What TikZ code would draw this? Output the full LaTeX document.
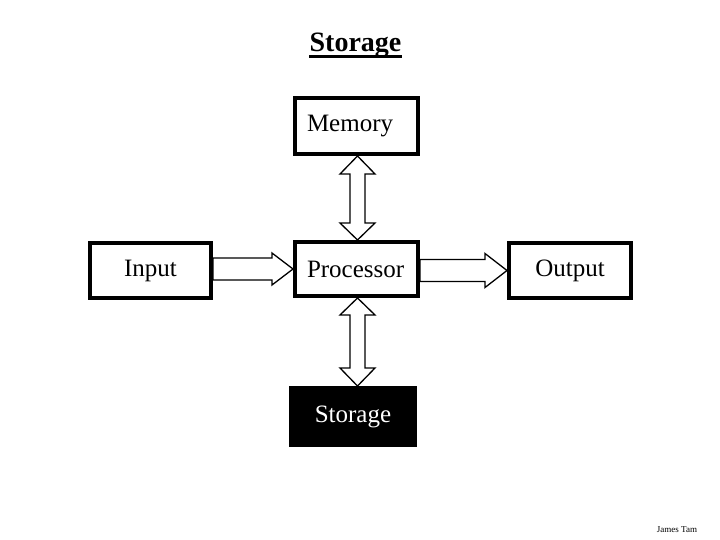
\documentclass[tikz,border=0pt]{standalone}
\usepackage{fontspec}
\setmainfont{Liberation Serif}
\usetikzlibrary{calc}
\tikzset{
  unitbox/.style={draw=black, line width=4pt, fill=white, minimum height=55pt, inner sep=0pt,
    font=\fontsize{25}{30}\selectfont},
  leftbox/.style={unitbox, text width=99pt, align=left, inner xsep=12pt},
  darkbox/.style={unitbox, fill=black, text=white},
  blockarrow/.style={draw=black, line width=1.3pt, fill=white, line join=miter},
}
\begin{document}
\begin{tikzpicture}[x=1pt,y=-1pt]
\useasboundingbox (0,0) rectangle (720,540);
\node[font=\fontsize{28}{32}\selectfont\bfseries, inner sep=0pt, anchor=base] (title) at (355.5,52) {Storage};
\draw[line width=2.5pt] ($(title.base west)+(0,4.5)$) -- ($(title.base east)+(0,4.5)$);
% boxes
\node[leftbox, minimum height=56pt] (mem) at (356.5,126) {Memory};
\node[leftbox, minimum height=54pt] (proc) at (356.5,269) {Processor};
\node[unitbox, minimum width=121pt] (in) at (150.5,270.5) {Input};
\node[unitbox, minimum width=122pt] (out) at (570,270.5) {Output};
\node[darkbox, minimum width=124pt, minimum height=57pt] (stor) at (353,416.5) {Storage};
% horizontal arrows
\draw[blockarrow] let \p1=(in.east), \p2=(proc.west) in
  (\x1,\y2+11pt) -- (\x2-21pt,\y2+11pt) -- (\x2-21pt,\y2+16pt) -- (\x2,\y2)
  -- (\x2-21pt,\y2-16pt) -- (\x2-21pt,\y2-11pt) -- (\x1,\y2-11pt) -- cycle;
\draw[blockarrow] let \p1=(proc.east), \p2=(out.west) in
  (\x1,\y2+11pt) -- (\x2-22pt,\y2+11pt) -- (\x2-22pt,\y2+17pt) -- (\x2,\y2)
  -- (\x2-22pt,\y2-17pt) -- (\x2-22pt,\y2-11pt) -- (\x1,\y2-11pt) -- cycle;
% vertical double arrows
\draw[blockarrow] let \p1=(mem.south), \p2=(proc.north) in
  (\x1+1pt,\y1) -- (\x1-16.5pt,\y1-18pt) -- (\x1-6.5pt,\y1-18pt) -- (\x1-6.5pt,\y2+17pt)
  -- (\x1-16.5pt,\y2+17pt) -- (\x1+1pt,\y2) -- (\x1+18.5pt,\y2+17pt) -- (\x1+8.5pt,\y2+17pt)
  -- (\x1+8.5pt,\y1-18pt) -- (\x1+18.5pt,\y1-18pt) -- cycle;
\draw[blockarrow] let \p1=(proc.south), \p2=(stor.north) in
  (\x1+1pt,\y1) -- (\x1-16.5pt,\y1-17pt) -- (\x1-6.5pt,\y1-17pt) -- (\x1-6.5pt,\y2+18pt)
  -- (\x1-16.5pt,\y2+18pt) -- (\x1+1pt,\y2) -- (\x1+18.5pt,\y2+18pt) -- (\x1+8.5pt,\y2+18pt)
  -- (\x1+8.5pt,\y1-17pt) -- (\x1+18.5pt,\y1-17pt) -- cycle;
\node[font=\fontsize{9}{10}\selectfont] (author) at (677,530) {James Tam};
\end{tikzpicture}
\end{document}
